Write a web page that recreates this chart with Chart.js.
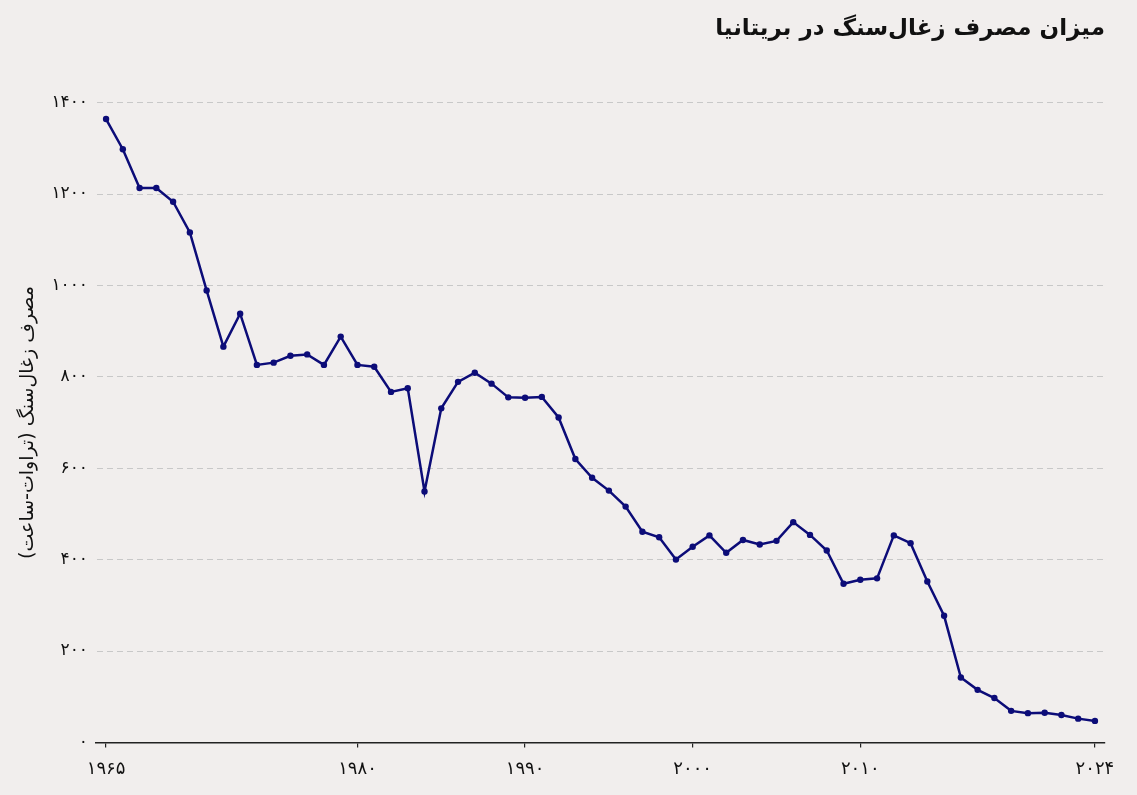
<!DOCTYPE html>
<html lang="fa">
<head>
<meta charset="utf-8">
<title>میزان مصرف زغال‌سنگ در بریتانیا</title>
<script src="https://cdn.jsdelivr.net/npm/chart.js@4/dist/chart.umd.min.js"></script>
<style>
  html, body { margin: 0; padding: 0; background: #f1eeed; }
  #wrap { width: 1137px; height: 795px; position: relative; }
</style>
</head>
<body>
<div id="wrap"><canvas id="coal"></canvas></div>
<script>
// ---- data (TWh) ----
const years = [
  1965, 1966, 1967, 1968, 1969, 1970, 1971, 1972, 1973, 1974,
  1975, 1976, 1977, 1978, 1979, 1980, 1981, 1982, 1983, 1984,
  1985, 1986, 1987, 1988, 1989, 1990, 1991, 1992, 1993, 1994,
  1995, 1996, 1997, 1998, 1999, 2000, 2001, 2002, 2003, 2004,
  2005, 2006, 2007, 2008, 2009, 2010, 2011, 2012, 2013, 2014,
  2015, 2016, 2017, 2018, 2019, 2020, 2021, 2022, 2023, 2024
];
const coalTWh = [
  1364, 1298, 1213, 1213, 1183, 1116, 989, 866, 938, 826,
  831, 846, 849, 826, 888, 826, 822, 767, 775, 549,
  731, 789, 809, 785, 755, 754, 756, 711, 620, 579,
  551, 516, 461, 449, 400, 428, 453, 415, 443, 433,
  441, 482, 454, 420, 347, 356, 359, 453, 436, 352,
  277, 142, 115, 97, 69, 64, 65, 60, 52, 47
];
const xTicks = [1965, 1980, 1990, 2000, 2010, 2024];
const yTicks = [0, 200, 400, 600, 800, 1000, 1200, 1400];

const titleText = 'میزان مصرف زغال‌سنگ در بریتانیا';
const yTitleText = 'مصرف زغال‌سنگ (تراوات-ساعت)';

const FONT = "'DejaVu Sans', 'Noto Sans', sans-serif";
const LINE = '#0c0c78';

// latin digits -> persian digits
function fa(n) {
  return String(n).replace(/[0-9]/g, (d) => '۰۱۲۳۴۵۶۷۸۹'[d]);
}

const points = years.map((y, i) => ({ x: y, y: coalTWh[i] }));

new Chart(document.getElementById('coal'), {
  type: 'line',
  data: {
    datasets: [{
      data: points,
      borderColor: LINE,
      backgroundColor: LINE,
      borderWidth: 2.5,
      pointRadius: 3.2,
      pointBackgroundColor: LINE,
      pointBorderWidth: 0,
      tension: 0,
    }],
  },
  options: {
    responsive: true,
    maintainAspectRatio: false,
    animation: false,
    layout: { padding: { left: 0, right: 32, top: 0, bottom: 4 } },
    plugins: {
      legend: { display: false },
      tooltip: { enabled: false },
      title: {
        display: true,
        text: titleText,
        align: 'end',
        color: '#111',
        font: { family: FONT, size: 23, weight: 'bold' },
        padding: { top: 15, bottom: 60 },
      },
    },
    scales: {
      x: {
        type: 'linear',
        min: 1964.4,
        max: 2024.6,
        afterBuildTicks: (scale) => {
          scale.ticks = xTicks.map((v) => ({ value: v }));
        },
        ticks: {
          autoSkip: false,
          maxRotation: 0,
          color: '#111',
          padding: 11,
          font: { family: FONT, size: 18 },
          callback: (v) => fa(v),
        },
        grid: {
          drawOnChartArea: false,
          drawTicks: true,
          tickLength: 5,
          color: '#222',
          lineWidth: 1.2,
        },
        border: { display: true, color: '#222', width: 1.6 },
      },
      y: {
        min: 0,
        max: 1400,
        afterFit: (scale) => { scale.width = 96; },
        afterBuildTicks: (scale) => {
          scale.ticks = yTicks.map((v) => ({ value: v }));
        },
        ticks: {
          color: '#111',
          padding: 8,
          font: { family: FONT, size: 17 },
          callback: (v) => fa(v),
        },
        grid: {
          drawTicks: false,
          color: '#c8c8c8',
          lineWidth: 1,
        },
        border: { display: true, color: 'rgba(0,0,0,0)', dash: [6, 4] },
        title: {
          display: true,
          text: yTitleText,
          color: '#111',
          font: { family: FONT, size: 19 },
          padding: { top: 17, bottom: 0 },
        },
      },
    },
  },
});
</script>
</body>
</html>
